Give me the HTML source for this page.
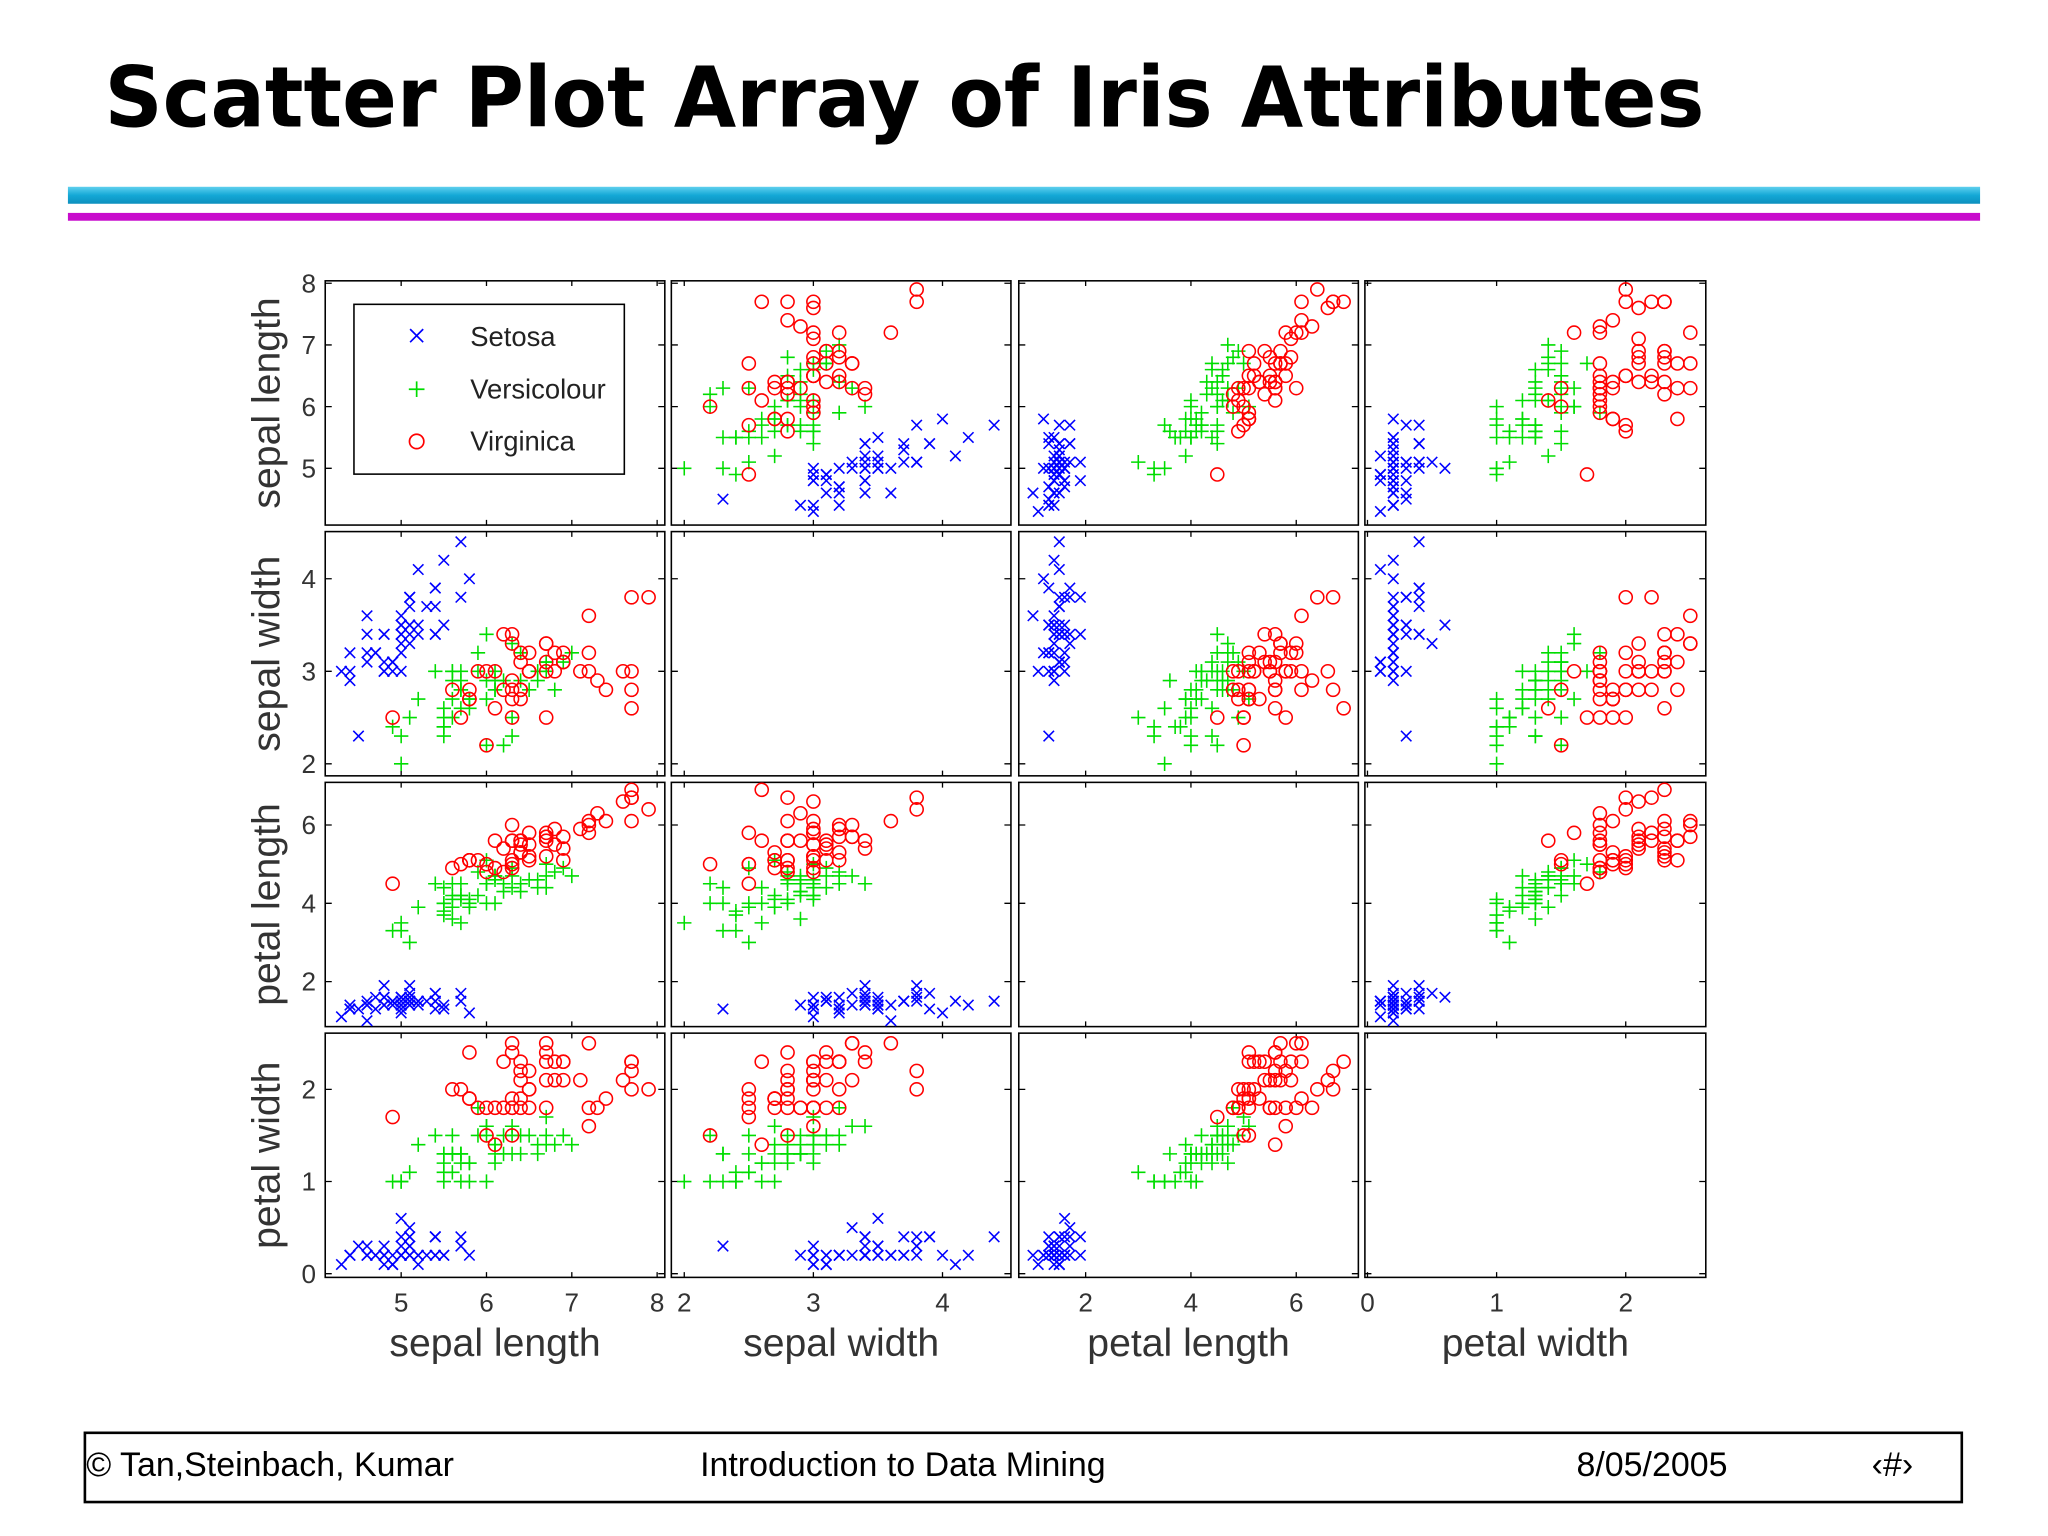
<!DOCTYPE html>
<html><head><meta charset="utf-8"><style>
html,body{margin:0;padding:0;background:#fff;width:2048px;height:1536px;overflow:hidden}
svg{display:block}
text{font-family:"Liberation Sans",Arial,sans-serif}
</style></head><body>
<svg id="chart" width="2048" height="1536" viewBox="0 0 1568 1176" preserveAspectRatio="none" xmlns="http://www.w3.org/2000/svg">
<rect width="1568" height="1176" fill="#fff"/>
<text x="80" y="97" font-size="64" font-weight="bold" style='font-family:"DejaVu Sans","Liberation Sans",sans-serif' textLength="1225" lengthAdjust="spacingAndGlyphs">Scatter Plot Array of Iris Attributes</text>
<defs><linearGradient id="cy" x1="0" y1="0" x2="0" y2="1"><stop offset="0" stop-color="#5fd0ee"/><stop offset="0.5" stop-color="#14a8d6"/><stop offset="1" stop-color="#0d8fbd"/></linearGradient></defs>
<rect x="52" y="143" width="1464" height="13" fill="url(#cy)"/>
<rect x="52" y="163" width="1464" height="6" fill="#c80ccc"/>
<g id="plots"></g>
<g>
<rect x="271" y="233" width="207" height="130" fill="#fff" stroke="#000" stroke-width="1.2"/>
<path d="M314 252 l10 10 M324 252 l-10 10" stroke="#0000ff" stroke-width="1.3"/>
<text x="360" y="265" font-size="21" fill="#222">Setosa</text>
<path d="M319 292 v12 M313 298 h12" stroke="#00dd00" stroke-width="1.3"/>
<text x="360" y="305" font-size="21" fill="#222">Versicolour</text>
<circle cx="319" cy="338" r="5.5" fill="none" stroke="#ff0000" stroke-width="1.3"/>
<text x="360" y="345" font-size="21" fill="#222">Virginica</text>
</g>
<g>
<rect x="65" y="1097" width="1437" height="53" fill="none" stroke="#000" stroke-width="2"/>
<text x="66" y="1130" font-size="26">© Tan,Steinbach, Kumar</text>
<text x="536" y="1130" font-size="26">Introduction to Data Mining</text>
<text x="1207" y="1130" font-size="26">8/05/2005</text>
<text x="1433" y="1130" font-size="26">‹#›</text>
</g>
</svg>
<script>
const attributeNames = ["sepal length","sepal width","petal length","petal width"];
const speciesNames = ["Setosa","Versicolour","Virginica"];
const speciesCounts = [50,50,50];
const sepalLength = [5.1,4.9,4.7,4.6,5.0,5.4,4.6,5.0,4.4,4.9,5.4,4.8,4.8,4.3,5.8,5.7,5.4,5.1,5.7,5.1,5.4,5.1,4.6,5.1,4.8,5.0,5.0,5.2,5.2,4.7,4.8,5.4,5.2,5.5,4.9,5.0,5.5,4.9,4.4,5.1,5.0,4.5,4.4,5.0,5.1,4.8,5.1,4.6,5.3,5.0,
7.0,6.4,6.9,5.5,6.5,5.7,6.3,4.9,6.6,5.2,5.0,5.9,6.0,6.1,5.6,6.7,5.6,5.8,6.2,5.6,5.9,6.1,6.3,6.1,6.4,6.6,6.8,6.7,6.0,5.7,5.5,5.5,5.8,6.0,5.4,6.0,6.7,6.3,5.6,5.5,5.5,6.1,5.8,5.0,5.6,5.7,5.7,6.2,5.1,5.7,
6.3,5.8,7.1,6.3,6.5,7.6,4.9,7.3,6.7,7.2,6.5,6.4,6.8,5.7,5.8,6.4,6.5,7.7,7.7,6.0,6.9,5.6,7.7,6.3,6.7,7.2,6.2,6.1,6.4,7.2,7.4,7.9,6.4,6.3,6.1,7.7,6.3,6.4,6.0,6.9,6.7,6.9,5.8,6.8,6.7,6.7,6.3,6.5,6.2,5.9];
const sepalWidth = [3.5,3.0,3.2,3.1,3.6,3.9,3.4,3.4,2.9,3.1,3.7,3.4,3.0,3.0,4.0,4.4,3.9,3.5,3.8,3.8,3.4,3.7,3.6,3.3,3.4,3.0,3.4,3.5,3.4,3.2,3.1,3.4,4.1,4.2,3.1,3.2,3.5,3.1,3.0,3.4,3.5,2.3,3.2,3.5,3.8,3.0,3.8,3.2,3.7,3.3,
3.2,3.2,3.1,2.3,2.8,2.8,3.3,2.4,2.9,2.7,2.0,3.0,2.2,2.9,2.9,3.1,3.0,2.7,2.2,2.5,3.2,2.8,2.5,2.8,2.9,3.0,2.8,3.0,2.9,2.6,2.4,2.4,2.7,2.7,3.0,3.4,3.1,2.3,3.0,2.5,2.6,3.0,2.6,2.3,2.7,3.0,2.9,2.9,2.5,2.8,
3.3,2.7,3.0,2.9,3.0,3.0,2.5,2.9,2.5,3.6,3.2,2.7,3.0,2.5,2.8,3.2,3.0,3.8,2.6,2.2,3.2,2.8,2.8,2.7,3.3,3.2,2.8,3.0,2.8,3.0,2.8,3.8,2.8,2.8,2.6,3.0,3.4,3.1,3.0,3.1,3.1,3.1,2.7,3.2,3.3,3.0,2.5,3.0,3.4,3.0];
const petalLength = [1.4,1.4,1.3,1.5,1.4,1.7,1.4,1.5,1.4,1.5,1.5,1.6,1.4,1.1,1.2,1.5,1.3,1.4,1.7,1.5,1.7,1.5,1.0,1.7,1.9,1.6,1.6,1.5,1.4,1.6,1.6,1.5,1.5,1.4,1.5,1.2,1.3,1.5,1.3,1.5,1.3,1.3,1.3,1.6,1.9,1.4,1.6,1.4,1.5,1.4,
4.7,4.5,4.9,4.0,4.6,4.5,4.7,3.3,4.6,3.9,3.5,4.2,4.0,4.7,3.6,4.4,4.5,4.1,4.5,3.9,4.8,4.0,4.9,4.7,4.3,4.4,4.8,5.0,4.5,3.5,3.8,3.7,3.9,5.1,4.5,4.5,4.7,4.4,4.1,4.0,4.4,4.6,4.0,3.3,4.2,4.2,4.2,4.3,3.0,4.1,
6.0,5.1,5.9,5.6,5.8,6.6,4.5,6.3,5.8,6.1,5.1,5.3,5.5,5.0,5.1,5.3,5.5,6.7,6.9,5.0,5.7,4.9,6.7,4.9,5.7,6.0,4.8,4.9,5.6,5.8,6.1,6.4,5.6,5.1,5.6,6.1,5.6,5.5,4.8,5.4,5.6,5.1,5.1,5.9,5.7,5.2,5.0,5.2,5.4,5.1];
const petalWidth = [0.2,0.2,0.2,0.2,0.2,0.4,0.3,0.2,0.2,0.1,0.2,0.2,0.1,0.1,0.2,0.4,0.4,0.3,0.3,0.3,0.2,0.4,0.2,0.5,0.2,0.2,0.4,0.2,0.2,0.2,0.2,0.4,0.1,0.2,0.1,0.2,0.2,0.1,0.2,0.2,0.3,0.3,0.2,0.6,0.4,0.3,0.2,0.2,0.2,0.2,
1.4,1.5,1.5,1.3,1.5,1.3,1.6,1.0,1.3,1.4,1.0,1.5,1.0,1.4,1.3,1.4,1.5,1.0,1.5,1.1,1.8,1.3,1.5,1.2,1.3,1.4,1.4,1.7,1.5,1.0,1.1,1.0,1.2,1.6,1.5,1.6,1.5,1.3,1.3,1.3,1.2,1.4,1.2,1.0,1.3,1.2,1.3,1.3,1.1,1.3,
2.5,1.9,2.1,1.8,2.2,2.1,1.7,1.8,1.8,2.5,2.0,1.9,2.1,2.0,2.4,2.3,1.8,2.2,2.3,1.5,2.3,2.0,2.0,1.8,2.1,1.8,1.8,1.8,2.1,1.6,1.9,2.0,2.2,1.5,1.4,2.3,2.4,1.8,1.8,2.1,2.4,2.3,1.9,2.3,2.5,2.3,1.9,2.0,2.3,1.8];
const axisRanges = [[4.11,8.09],[1.9,4.53],[0.73,7.18],[-0.02,2.62]];
const yRanges = [[4.08,8.04],[1.87,4.51],[0.85,7.09],[-0.04,2.61]];
const yTicks = [[5,6,7,8],[2,3,4],[2,4,6],[0,1,2]];
const xTicks = [[5,6,7,8],[2,3,4],[2,4,6],[0,1,2]];

const NS="http://www.w3.org/2000/svg";
const colX=[[249,509],[514,774],[780,1040],[1045,1306]];
const rowY=[[215,402],[407,594],[599,786],[791,978]];
const cols=["#0000ff","#00dd00","#ff0000"];
const g=document.getElementById('plots');
const data=[sepalLength,sepalWidth,petalLength,petalWidth];
function mk(t,a,p){const e=document.createElementNS(NS,t);for(const k in a)e.setAttribute(k,a[k]);(p||g).appendChild(e);return e;}
function sx(c,v){const r=axisRanges[c];return colX[c][0]+(v-r[0])/(r[1]-r[0])*(colX[c][1]-colX[c][0]);}
function sy(rw,v){const r=yRanges[rw];return rowY[rw][1]-(v-r[0])/(r[1]-r[0])*(rowY[rw][1]-rowY[rw][0]);}
function spec(i){let s=0,acc=speciesCounts[0];while(i>=acc){s++;acc+=speciesCounts[s];}return s;}
for(let r=0;r<4;r++)for(let c=0;c<4;c++){
  const pg=mk('g',{});
  
  
  const x0=colX[c][0],x1=colX[c][1],y0=rowY[r][0],y1=rowY[r][1];
  mk('rect',{x:x0,y:y0,width:x1-x0,height:y1-y0,fill:'#fff',stroke:'#000','stroke-width':1.2},pg);
  yTicks[r].forEach(t=>{const y=sy(r,t);mk('path',{d:`M${x0} ${y}h5M${x1} ${y}h-5`,stroke:'#000','stroke-width':1},pg);});
  xTicks[c].forEach(t=>{const x=sx(c,t);mk('path',{d:`M${x} ${y1}v-4M${x} ${y0}v4`,stroke:'#000','stroke-width':1},pg);});
  if(r===c) continue;
  for(let i=0;i<sepalLength.length;i++){
    const s=spec(i),x=sx(c,data[c][i]),y=sy(r,data[r][i]);let m;
    if(s===0) m=mk('path',{d:`M${x-4} ${y-4}l8 8M${x+4} ${y-4}l-8 8`,stroke:cols[0],'stroke-width':1.2,fill:'none'},pg);
    else if(s===1) m=mk('path',{d:`M${x} ${y-5.5}v11M${x-5.5} ${y}h11`,stroke:cols[1],'stroke-width':1.2,fill:'none'},pg);
    else m=mk('circle',{cx:x,cy:y,r:5,stroke:cols[2],'stroke-width':1.2,fill:'none'},pg);
    
    
  }
}
for(let r=0;r<4;r++){
  yTicks[r].forEach(t=>{const e=mk('text',{x:242,y:sy(r,t)+7,'font-size':20,'text-anchor':'end',fill:'#333'});e.textContent=t;
    
    });
  const cy=(rowY[r][0]+rowY[r][1])/2;
  const tl=mk('text',{x:0,y:0,'font-size':30,'text-anchor':'middle',fill:'#333',transform:`translate(214 ${cy}) rotate(-90)`});tl.textContent=attributeNames[r];
  
  
}
for(let c=0;c<4;c++){
  xTicks[c].forEach(t=>{const e=mk('text',{x:sx(c,t),y:1004,'font-size':20,'text-anchor':'middle',fill:'#333'});e.textContent=t;
    
    });
  const tl=mk('text',{x:(colX[c][0]+colX[c][1])/2,y:1038,'font-size':30,'text-anchor':'middle',fill:'#333'});tl.textContent=attributeNames[c];
  
  
}
</script>
</body></html>
